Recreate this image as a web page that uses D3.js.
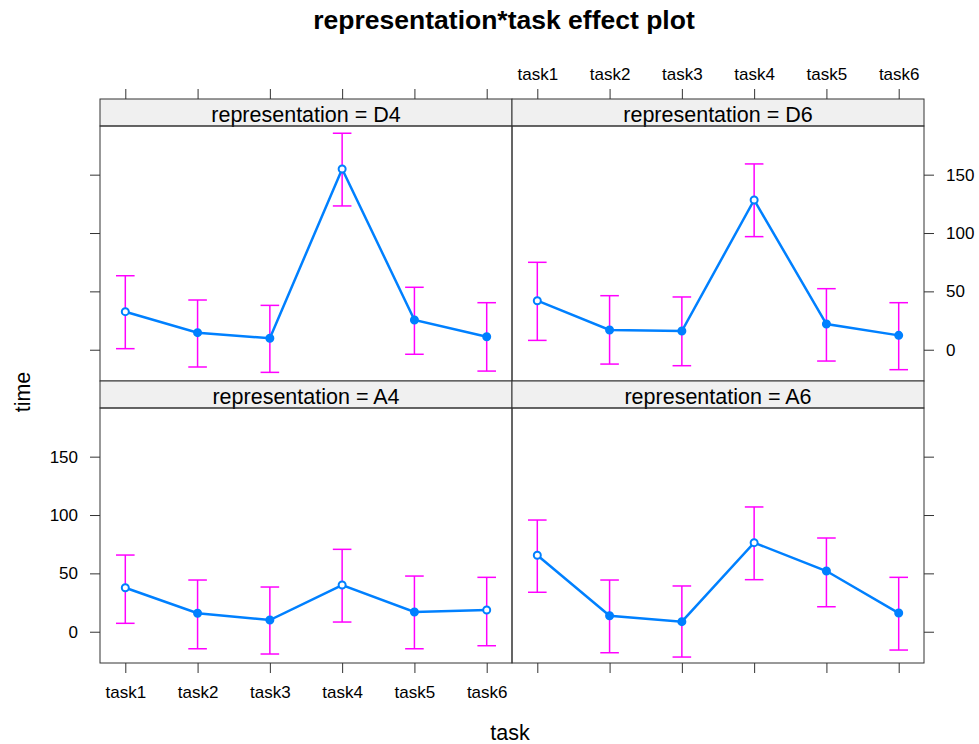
<!DOCTYPE html>
<html>
<head>
<meta charset="utf-8">
<script src="https://cdn.jsdelivr.net/npm/d3@7"></script>
<style>
  body { margin: 0; background: #fff; }
  text { font-family: "Liberation Sans", Arial, sans-serif; }
</style>
</head>
<body>
<svg id="chart" width="979" height="744"></svg>
<script>
// Effect estimates of time by task, one panel per representation
const tasks = ["task1", "task2", "task3", "task4", "task5", "task6"];
const panels = ["D4", "D6", "A4", "A6"];
const yTicks = [0, 50, 100, 150];

const fitD4 = [32.6, 14.6, 9.8, 154.9, 25.5, 11.1];
const lowerD4 = [0.9, -14.8, -19.4, 123.2, -3.9, -18.3];
const upperD4 = [63.4, 42.6, 38.0, 185.5, 53.5, 40.3];

const fitD6 = [42.0, 16.9, 16.0, 128.3, 22.0, 12.3];
const lowerD6 = [8.0, -12.3, -13.7, 96.9, -9.7, -17.1];
const upperD6 = [74.9, 46.3, 45.2, 159.2, 52.3, 40.3];

const fitA4 = [37.7, 15.8, 10.0, 40.0, 16.9, 18.6];
const lowerA4 = [7.2, -14.6, -19.1, 8.3, -14.6, -12.0];
const upperA4 = [65.7, 44.3, 38.3, 70.6, 47.7, 46.6];

const fitA6 = [65.5, 13.7, 8.6, 76.3, 52.0, 16.0];
const lowerA6 = [33.8, -18.0, -21.7, 44.6, 21.4, -15.7];
const upperA6 = [95.7, 44.3, 39.2, 106.9, 80.3, 46.6];

const series = {
  D4: { fit: fitD4, lower: lowerD4, upper: upperD4 },
  D6: { fit: fitD6, lower: lowerD6, upper: upperD6 },
  A4: { fit: fitA4, lower: lowerA4, upper: upperA4 },
  A6: { fit: fitA6, lower: lowerA6, upper: upperA6 }
};

const svg = d3.select("#chart");
const frame = "#333333";
const lineBlue = "#0080ff";
const barPink = "#ff00ff";

// Panel grid geometry
const colX = [100, 512];
const panelW = 412;
const stripH = 27;
const rowTop = [99, 381];
const plotH = 255;

const xIdx = d3.scaleLinear().domain([0.65, 6.35]).range([0, panelW]);
const y = d3.scaleLinear().domain([-26.8, 191.7]).range([plotH, 0]);

svg.append("text")
  .attr("x", 504).attr("y", 29)
  .attr("text-anchor", "middle")
  .attr("font-size", 26.5).attr("font-weight", "bold")
  .text("representation*task effect plot");

panels.forEach((name, i) => {
  const col = i % 2, row = Math.floor(i / 2);
  const x0 = colX[col];
  const sTop = rowTop[row];
  const pTop = sTop + stripH;
  const g = svg.append("g");

  // strip
  g.append("rect")
    .attr("x", x0).attr("y", sTop).attr("width", panelW).attr("height", stripH)
    .attr("fill", "#f0f0f0").attr("stroke", frame).attr("stroke-width", 1);
  g.append("text")
    .attr("x", x0 + panelW / 2).attr("y", sTop + 22.5)
    .attr("text-anchor", "middle").attr("font-size", 21.5)
    .text("representation = " + name);

  const plot = g.append("g").attr("transform", `translate(${x0},${pTop})`);
  plot.append("rect")
    .attr("width", panelW).attr("height", plotH)
    .attr("fill", "none").attr("stroke", frame).attr("stroke-width", 1);

  const d = series[name];
  const pts = tasks.map((t, k) => ({ k: k + 1, fit: d.fit[k], lo: d.lower[k], hi: d.upper[k] }));

  // error bars
  const eb = plot.append("g").attr("stroke", barPink).attr("stroke-width", 1.5).attr("fill", "none");
  pts.forEach(p => {
    const cx = xIdx(p.k);
    eb.append("line").attr("x1", cx).attr("x2", cx).attr("y1", y(p.lo)).attr("y2", y(p.hi));
    eb.append("line").attr("x1", cx - 9.3).attr("x2", cx + 9.3).attr("y1", y(p.lo)).attr("y2", y(p.lo));
    eb.append("line").attr("x1", cx - 9.3).attr("x2", cx + 9.3).attr("y1", y(p.hi)).attr("y2", y(p.hi));
  });

  // fitted line and points; where the line runs through a circle from both
  // sides its hollow is covered, so only local peaks read as open rings
  plot.append("path")
    .datum(pts)
    .attr("fill", "none").attr("stroke", lineBlue).attr("stroke-width", 2.5)
    .attr("d", d3.line().x(p => xIdx(p.k)).y(p => y(p.fit)));
  const isPeak = (p, k) => {
    const prev = k > 0 ? pts[k - 1].fit : -Infinity;
    const next = k < pts.length - 1 ? pts[k + 1].fit : -Infinity;
    return p.fit > prev && p.fit > next;
  };
  plot.selectAll("circle.pt").data(pts).enter().append("circle")
    .attr("class", "pt")
    .attr("cx", p => xIdx(p.k)).attr("cy", p => y(p.fit)).attr("r", 3.5)
    .attr("fill", (p, k) => isPeak(p, k) ? "#fff" : lineBlue)
    .attr("stroke", lineBlue).attr("stroke-width", 2);

  // axes: lattice-style alternating ticks and labels
  const xAxisScale = d3.scalePoint().domain(tasks).range([xIdx(1), xIdx(6)]);
  const tickStyle = a => {
    a.select(".domain").remove();
    a.selectAll(".tick line").attr("stroke", frame).attr("stroke-width", 1);
    a.selectAll(".tick text").attr("font-size", 17).attr("fill", "#000")
      .attr("font-family", "Liberation Sans, Arial, sans-serif");
  };
  if (row === 0) {
    const ax = plot.append("g").attr("transform", `translate(0,${-stripH})`)
      .call(d3.axisTop(xAxisScale).tickSize(10).tickPadding(9)
        .tickFormat(col === 1 ? (t => t) : () => ""));
    tickStyle(ax);
  } else {
    const ax = plot.append("g").attr("transform", `translate(0,${plotH})`)
      .call(d3.axisBottom(xAxisScale).tickSize(10).tickPadding(13)
        .tickFormat(col === 0 ? (t => t) : () => ""));
    tickStyle(ax);
  }
  if (col === 0) {
    const ax = plot.append("g")
      .call(d3.axisLeft(y).tickValues(yTicks).tickSize(10).tickPadding(12)
        .tickFormat(row === 1 ? d3.format("d") : () => ""));
    tickStyle(ax);
  } else {
    const ax = plot.append("g").attr("transform", `translate(${panelW},0)`)
      .call(d3.axisRight(y).tickValues(yTicks).tickSize(10).tickPadding(12)
        .tickFormat(row === 0 ? d3.format("d") : () => ""));
    tickStyle(ax);
  }
});

// axis titles
svg.append("text")
  .attr("x", 510).attr("y", 740)
  .attr("text-anchor", "middle").attr("font-size", 21.5)
  .text("task");
svg.append("text")
  .attr("transform", "translate(30,392) rotate(-90)")
  .attr("text-anchor", "middle").attr("font-size", 21.5)
  .text("time");
</script>
</body>
</html>
